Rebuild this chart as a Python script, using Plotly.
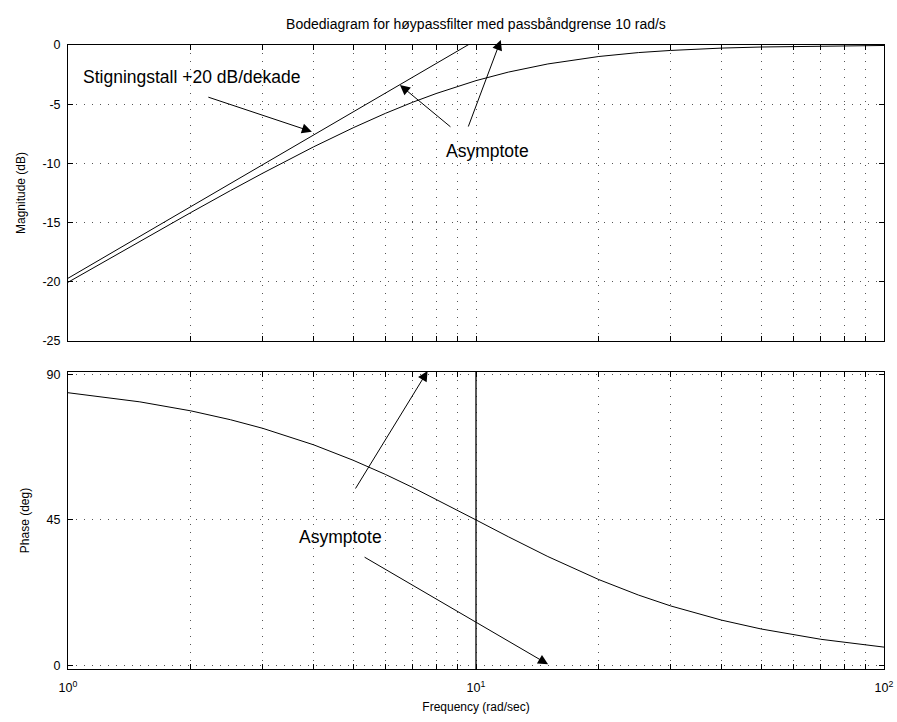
import math
import plotly.graph_objects as go
from plotly.subplots import make_subplots

# Bode data for the first-order high-pass filter (corner at 10 rad/s)
freq = [1, 1.5, 2, 2.5, 3, 4, 5, 6, 7, 8, 9, 10, 12, 15, 20, 25, 30, 40, 50, 70, 100]
mag_db = [-20.04, -16.58, -14.15, -12.30, -10.83, -8.60, -6.99, -5.77, -4.83, -4.09,
          -3.49, -3.01, -2.29, -1.60, -0.97, -0.64, -0.46, -0.26, -0.17, -0.09, -0.04]
phase_deg = [84.29, 81.47, 78.69, 75.96, 73.30, 68.20, 63.43, 59.04, 55.01, 51.34,
             48.01, 45.00, 39.81, 33.69, 26.57, 21.80, 18.43, 14.04, 11.31, 8.13, 5.71]

# +20 dB/decade asymptote in the magnitude plot
asym_freq = [1, 10]
asym_db = [-19.7, 0.4]

# vertical marker at the corner frequency in the phase plot
corner_freq = [10, 10]
corner_deg = [-1.05, 90.7]

x_tickvals = [1, 2, 3, 4, 5, 6, 7, 8, 9, 10, 20, 30, 40, 50, 60, 70, 80, 90, 100]
x_ticktext = ["10<sup>0</sup>"] + [""] * 8 + ["10<sup>1</sup>"] + [""] * 8 + ["10<sup>2</sup>"]
mag_ticks = [0, -5, -10, -15, -20, -25]
mag_ticktext = ["0", "-5", "-10", "-15", "-20", "-25"]
phase_ticks = [0, 45, 90]
phase_ticktext = ["0", "45", "90"]

MAG_RANGE = [-25, 0]
PHASE_RANGE = [-1.05, 90.7]
TOP_DOM = [0.5256, 1.0]
BOT_DOM = [0.0, 0.476]

FONT = "Liberation Sans, Arial, Helvetica, sans-serif"

fig = make_subplots(rows=2, cols=1, shared_xaxes=False, vertical_spacing=0.05)

line = dict(color="black", width=1)
fig.add_trace(go.Scatter(x=freq, y=mag_db, mode="lines", line=line), row=1, col=1)
fig.add_trace(go.Scatter(x=asym_freq, y=asym_db, mode="lines", line=line), row=1, col=1)
fig.add_trace(go.Scatter(x=freq, y=phase_deg, mode="lines", line=line), row=2, col=1)
fig.add_trace(go.Scatter(x=corner_freq, y=corner_deg, mode="lines", line=dict(color="black", width=1.3)),
              row=2, col=1)

axis_common = dict(
    showline=True, linecolor="black", linewidth=1, mirror="allticks",
    ticks="inside", ticklen=5, tickcolor="black", tickwidth=1,
    showgrid=True, gridcolor="#555", gridwidth=1, griddash="1px,7px",
    zeroline=False, automargin=False,
    tickfont=dict(family=FONT, size=12.5, color="black"),
)
title_font = dict(family=FONT, size=12, color="black")

fig.update_xaxes(type="log", range=[0, 2], tickvals=x_tickvals, domain=[0, 1], **axis_common)
fig.update_xaxes(ticktext=[""] * len(x_tickvals), row=1, col=1)
fig.update_xaxes(ticktext=x_ticktext, ticklabelstandoff=7, row=2, col=1,
                 title=dict(text="Frequency (rad/sec)", font=title_font, standoff=8))

fig.update_yaxes(ticklabelstandoff=4, **axis_common)
fig.update_yaxes(range=MAG_RANGE, tickvals=mag_ticks, ticktext=mag_ticktext, domain=TOP_DOM,
                 row=1, col=1,
                 title=dict(text="Magnitude (dB)", font=title_font, standoff=14))
fig.update_yaxes(range=PHASE_RANGE, tickvals=phase_ticks, ticktext=phase_ticktext, domain=BOT_DOM,
                 row=2, col=1,
                 title=dict(text="Phase (deg)", font=title_font, standoff=14))


def to_paper(w, v, yrange, ydom):
    """Convert (frequency, value) on a panel to paper coordinates."""
    xp = math.log10(w) / 2.0
    yp = ydom[0] + (v - yrange[0]) / (yrange[1] - yrange[0]) * (ydom[1] - ydom[0])
    return xp, yp


def label(w, v, text, yrange, ydom):
    xp, yp = to_paper(w, v, yrange, ydom)
    return dict(x=xp, y=yp, xref="paper", yref="paper", text=text, showarrow=False,
                xanchor="left", yanchor="middle",
                font=dict(family=FONT, size=17.5, color="black"))


def arrow(w, v, ax, ay, yrange, ydom):
    xp, yp = to_paper(w, v, yrange, ydom)
    return dict(x=xp, y=yp, xref="paper", yref="paper", text="", showarrow=True,
                ax=ax, ay=ay, axref="pixel", ayref="pixel",
                arrowhead=2, arrowsize=2, arrowwidth=1, arrowcolor="black", standoff=0)


annotations = [
    label(1.076, -2.7, "Stigningstall +20 dB/dekade", MAG_RANGE, TOP_DOM),
    arrow(3.96, -7.32, -105, -35, MAG_RANGE, TOP_DOM),
    label(8.37, -8.95, "Asymptote", MAG_RANGE, TOP_DOM),
    arrow(6.51, -3.38, 52, 43, MAG_RANGE, TOP_DOM),
    arrow(11.5, 0.42, -33, 88, MAG_RANGE, TOP_DOM),
    label(3.64, 39.6, "Asymptote", PHASE_RANGE, BOT_DOM),
    arrow(7.61, 91.0, -73, 119, PHASE_RANGE, BOT_DOM),
    arrow(15.02, 0.4, -185, -108, PHASE_RANGE, BOT_DOM),
]

fig.update_layout(
    width=897, height=722,
    margin=dict(l=68, r=13, t=45, b=53),
    paper_bgcolor="white", plot_bgcolor="white",
    showlegend=False,
    font=dict(family=FONT, size=12, color="black"),
    title=dict(text="Bodediagram for høypassfilter med passbåndgrense 10 rad/s",
               x=0.5, xref="paper", xanchor="center",
               y=1 - 24 / 722, yref="container", yanchor="middle",
               font=dict(family=FONT, size=14, color="black")),
    annotations=annotations,
)

fig.write_html("out.html")
